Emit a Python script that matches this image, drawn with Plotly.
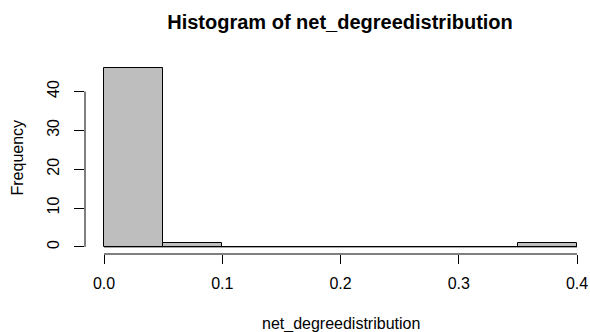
import plotly.graph_objects as go

bin_left = [0.00, 0.05, 0.10, 0.15, 0.20, 0.25, 0.30, 0.35]
bin_width = 0.05
counts = [46, 1, 0, 0, 0, 0, 0, 1]
x_ticks = [0.0, 0.1, 0.2, 0.3, 0.4]
x_tick_labels = ["0.0", "0.1", "0.2", "0.3", "0.4"]
y_ticks = [0, 10, 20, 30, 40]
y_tick_labels = ["0", "10", "20", "30", "40"]

FONT = "Liberation Sans, Arial, sans-serif"
W, H = 590, 332
L, R, T, B = 85, 0, 61, 78
x0_px, x4_px = 104, 577
ppu = (x4_px - x0_px) / (x_ticks[-1] - x_ticks[0])
xr = [x_ticks[0] - (x0_px - L) / ppu, x_ticks[0] + (W - R - x0_px) / ppu]
ymax = max(counts)
yr = [-0.04 * ymax, ymax * 1.04]

centers = [b + bin_width / 2 for b in bin_left]

fig = go.Figure()
fig.add_trace(go.Bar(
    x=centers, y=counts, width=[bin_width] * len(counts),
    marker=dict(color="#BEBEBE", line=dict(color="black", width=1)),
    hoverinfo="skip",
))
# zero baseline from histogram rectangles of zero height
fig.add_shape(type="line", xref="x", yref="y", x0=bin_left[0], x1=bin_left[-1] + bin_width,
              y0=0, y1=0, line=dict(color="black", width=1))
# x axis line
fig.add_shape(type="line", xref="x", yref="paper", x0=x_ticks[0], x1=x_ticks[-1],
              y0=0, y1=0, line=dict(color="black", width=1))
# y axis line
fig.add_shape(type="line", xref="paper", yref="y", x0=0, x1=0,
              y0=y_ticks[0], y1=y_ticks[-1], line=dict(color="black", width=1))

plot_h = H - T - B
plot_w = W - L - R
fig.add_annotation(text="net_degreedistribution", xref="x", x=(x_ticks[0] + x_ticks[-1]) / 2,
                   yref="paper", y=-(324 - (H - B)) / plot_h, yanchor="middle",
                   showarrow=False, font=dict(family=FONT, size=16, color="black"))
fig.add_annotation(text="Frequency", xref="paper", x=(17 - L) / plot_w, xanchor="center",
                   yref="paper", y=0.5, yanchor="middle", textangle=-90,
                   showarrow=False, font=dict(family=FONT, size=16, color="black"))

fig.update_layout(
    width=W, height=H,
    margin=dict(l=L, r=R, t=T, b=B, pad=0),
    paper_bgcolor="white", plot_bgcolor="white",
    showlegend=False, bargap=0,
    title=dict(text="<b>Histogram of net_degreedistribution</b>", xref="container", x=340 / W,
               xanchor="center", yref="container", y=1 - 22 / H, yanchor="middle",
               font=dict(family=FONT, size=20, color="black")),
    xaxis=dict(range=xr, tickvals=x_ticks, ticktext=x_tick_labels, showgrid=False,
               zeroline=False, showline=False, ticks="outside", ticklen=9, tickwidth=1,
               tickcolor="black", ticklabelstandoff=6, automargin=False,
               tickfont=dict(family=FONT, size=16, color="black")),
    yaxis=dict(range=yr, tickvals=y_ticks, ticktext=y_tick_labels, showgrid=False,
               zeroline=False, showline=False, ticks="outside", ticklen=10, tickwidth=1,
               tickcolor="black", tickangle=-90, ticklabelstandoff=9, automargin=False,
               tickfont=dict(family=FONT, size=16, color="black")),
)

fig.write_html("out.html", config={"displayModeBar": False},
               post_script="document.body.style.margin='0';document.body.style.overflow='hidden';")
